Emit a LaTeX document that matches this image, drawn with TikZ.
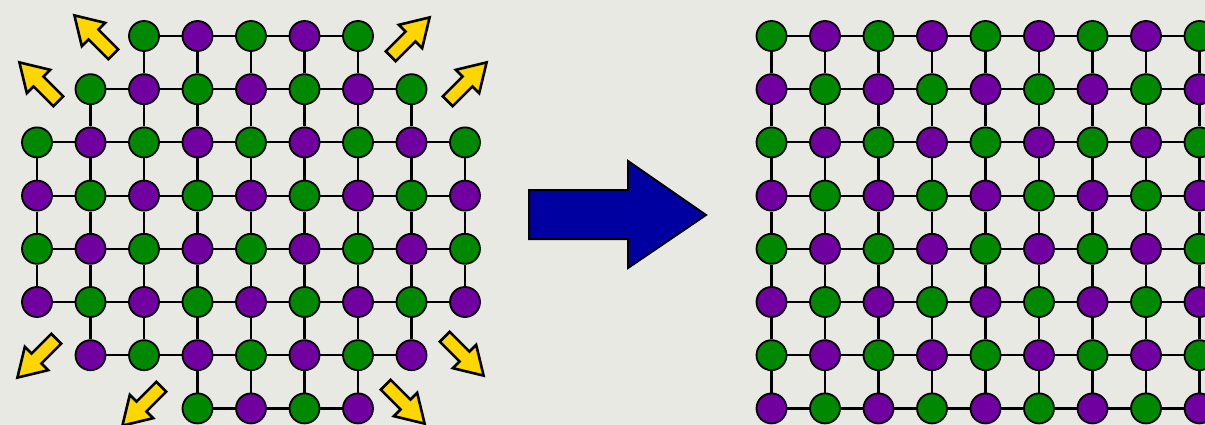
\documentclass[tikz,border=0pt]{standalone}
\usetikzlibrary{calc}
\definecolor{bg}{RGB}{233,233,228}
\definecolor{dgreen}{RGB}{0,136,0}
\definecolor{dpurple}{RGB}{112,0,160}
\definecolor{ayellow}{RGB}{255,214,0}
\definecolor{ablue}{RGB}{0,0,160}
\tikzset{
  dot/.style={circle,draw=black,line width=1.8pt,minimum size=30pt,inner sep=0pt},
  dot0/.style={fill=dgreen},
  dot1/.style={fill=dpurple},
  link/.style={draw=black,line width=2.2pt},
  yarrow/.pic={\draw[fill=ayellow,draw=black,line width=2.6pt,line join=miter]
     (1,7) -- (29,7) -- (29,16.5) -- (56,0) -- (29,-16.5) -- (29,-7) -- (1,-7) -- cycle;}
}
\begin{document}
\begin{tikzpicture}[x=1pt,y=-1pt]
\path[use as bounding box] (0,0) rectangle (1205,425);
\clip (0,0) rectangle (1205,425);
\fill[bg] (0,0) rectangle (1205,425);
% left grid nodes
\foreach \r/\a/\b in {0/2/6,1/1/7,2/0/8,3/0/8,4/0/8,5/0/8,6/1/7,7/3/6}{
  \foreach \c in {\a,...,\b}{
    \pgfmathtruncatemacro\p{mod(\r+\c,2)}
    \node[dot,dot\p] (L-\r-\c) at ({37+53.5*\c},{36+53.2*\r}) {};
  }
}
% left horizontal links
\foreach \r/\a/\b in {0/2/6,1/1/7,2/0/8,3/0/8,4/0/8,5/0/8,6/1/7,7/3/6}{
  \pgfmathtruncatemacro\e{\b-1}
  \foreach \c in {\a,...,\e}{
    \pgfmathtruncatemacro\n{\c+1}
    \path[link] (L-\r-\c) -- (L-\r-\n);
  }
}
% left vertical links
\foreach \r/\a/\b in {0/2/6,1/1/7,2/0/8,3/0/8,4/0/8,5/1/7,6/3/6}{
  \pgfmathtruncatemacro\s{\r+1}
  \foreach \c in {\a,...,\b}{
    \path[link] (L-\r-\c) -- (L-\s-\c);
  }
}
% right grid
\foreach \r in {0,...,7}{
  \foreach \c in {0,...,8}{
    \pgfmathtruncatemacro\p{mod(\r+\c,2)}
    \node[dot,dot\p] (R-\r-\c) at ({771.5+53.5*\c},{36+53.2*\r}) {};
  }
}
\foreach \r in {0,...,7}{
  \foreach \c in {0,...,7}{
    \pgfmathtruncatemacro\n{\c+1}
    \path[link] (R-\r-\c) -- (R-\r-\n);
  }
}
\foreach \r in {0,...,6}{
  \pgfmathtruncatemacro\s{\r+1}
  \foreach \c in {0,...,8}{
    \path[link] (R-\r-\c) -- (R-\s-\c);
  }
}
% blue arrow
\draw[fill=ablue,draw=black,line width=2pt,line join=miter]
  (529,190) -- (628,190) -- (628,161) -- (706,215) -- (628,268) -- (628,239) -- (529,239) -- cycle;
% yellow arrows
\pic[rotate=135] at (114,55) {yarrow};
\pic[rotate=135] at (59,102) {yarrow};
\pic[rotate=45] at (390,57) {yarrow};
\pic[rotate=45] at (447,102) {yarrow};
\pic[rotate=225] at (57,338) {yarrow};
\pic[rotate=225] at (162,386) {yarrow};
\pic[rotate=-45] at (444,336) {yarrow};
\pic[rotate=-45] at (385,384) {yarrow};
\end{tikzpicture}
\end{document}
